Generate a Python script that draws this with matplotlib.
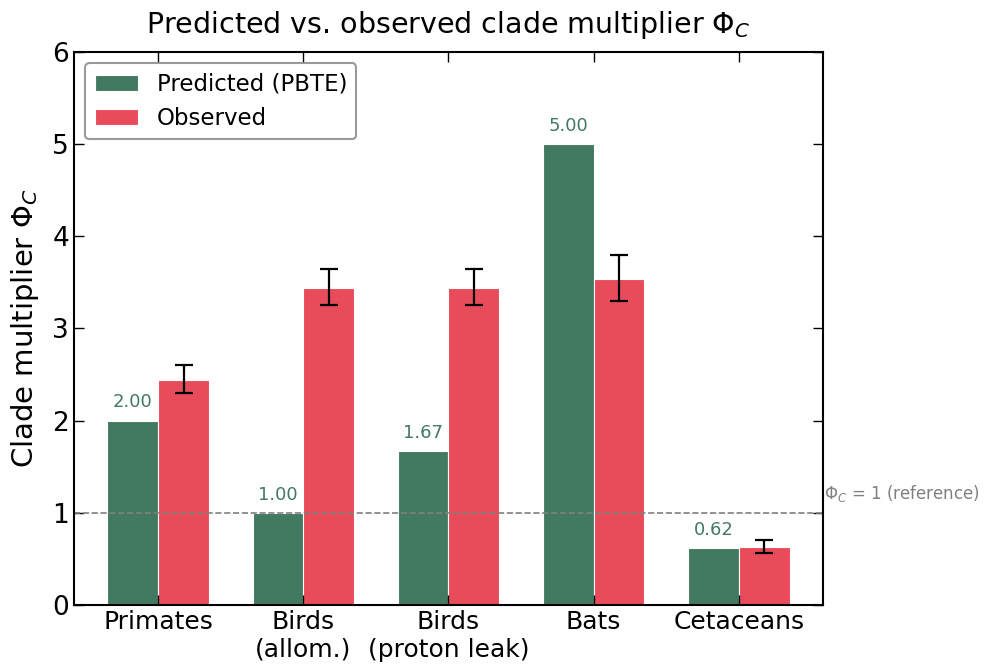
import matplotlib
matplotlib.use("Agg")
import matplotlib.pyplot as plt
import numpy as np

categories = ["Primates", "Birds\n(allom.)", "Birds\n(proton leak)", "Bats", "Cetaceans"]
predicted = [2.00, 1.00, 1.67, 5.00, 0.62]
observed = [2.44, 3.44, 3.44, 3.54, 0.63]
obs_err_low = [0.14, 0.19, 0.19, 0.24, 0.07]
obs_err_high = [0.16, 0.21, 0.21, 0.26, 0.08]
pred_labels = ["2.00", "1.00", "1.67", "5.00", "0.62"]

green = "#427A61"
red = "#E84C5A"

plt.rcParams['font.family'] = ['DejaVu Sans']
plt.rcParams['mathtext.fontset'] = 'dejavusans'

fig = plt.figure(figsize=(9.88, 6.67), dpi=100)
ax = fig.add_axes([0.0749, 0.093, 0.758, 0.829])

x = np.arange(len(categories))
w = 0.35
ax.bar(x - w/2, predicted, w, color=green, label="Predicted (PBTE)", edgecolor="white", linewidth=0.8)
ax.bar(x + w/2, observed, w, color=red, label="Observed", edgecolor="white", linewidth=0.8,
       yerr=[obs_err_low, obs_err_high], capsize=6.5,
       error_kw=dict(ecolor="black", elinewidth=1.6, capthick=1.6))

for xi, v, s in zip(x, predicted, pred_labels):
    ax.text(xi - w/2, v + 0.1, s, ha="center", va="bottom", color=green, fontsize=13)

ax.axhline(1.0, color="gray", linestyle="--", linewidth=1.2)
ax.text(4.585, 1.1, r"$\Phi_C$ = 1 (reference)", color="gray", fontsize=12,
        ha="left", va="bottom", clip_on=False)

ax.set_xlim(-0.58, 4.58)
ax.set_ylim(0, 6)
ax.set_xticks(x)
ax.set_xticklabels(categories, fontsize=18)
ax.set_yticks(range(0, 7))
ax.tick_params(axis="y", labelsize=19)
ax.tick_params(direction="in", top=True, right=True, length=7, width=1)
for sp in ax.spines.values():
    sp.set_linewidth(1.5)

ax.set_ylabel(r"Clade multiplier $\Phi_C$", fontsize=21, labelpad=8)
ax.set_title(r"Predicted vs. observed clade multiplier $\Phi_C$", fontsize=20.5, pad=14)

leg = ax.legend(loc="upper left", fontsize=16.5, frameon=True, fancybox=True,
                edgecolor="gray", handlelength=1.9, handleheight=0.7, borderpad=0.4)
leg.get_frame().set_linewidth(1.5)

fig.savefig("out.png", dpi=100)
